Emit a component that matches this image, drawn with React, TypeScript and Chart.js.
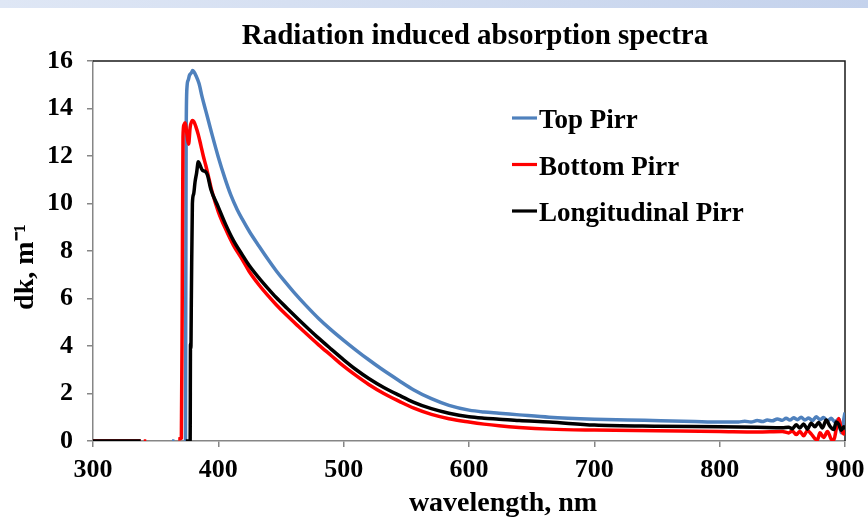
import { useEffect, useRef } from "react";
import { Chart, registerables } from "chart.js";

Chart.register(...registerables);

// Text
const chartTitle = "Radiation induced absorption spectra";
const xTitle = "wavelength, nm";
const yTitle = "dk, m⁻¹";
const seriesNames = ["Top Pirr", "Bottom Pirr", "Longitudinal Pirr"];
const seriesColors = ["#4F81BD", "#FF0000", "#000000"];

// Axis ranges
const xMin = 300;
const xMax = 900;
const xStep = 100;
const yMin = 0;
const yMax = 16;
const yStep = 2;

// Top Pirr: wavelength (nm) and dk (1/m); null breaks the trace
const topWl = [
  300, 338, 339, 363, 365, 366, 373.8, 374.3, 375, 376, 377, 378.5, 379.5, 380.5, 382, 384.6,
  387, 390, 392.5, 395, 400, 405, 410, 415, 419, 425, 432.5, 440, 446, 452, 460, 470, 480, 490,
  500, 510, 520, 530, 544, 556, 570, 584, 600, 612, 624, 640, 664, 700, 740, 780, 800, 815, 820,
  825, 830, 834, 838, 842, 846, 850, 853, 856, 859, 862, 865, 868, 871, 874, 877, 880, 883, 886,
  889, 892, 895, 897, 899, 900,
];
const topK = [
  0, 0, null, 0, 0, null, 0, 12.5, 14.9, 15.2, 15.4, 15.5, 15.6, 15.55, 15.4, 15.05,
  14.5, 13.9, 13.4, 12.9, 11.95, 11.1, 10.35, 9.75, 9.35, 8.8, 8.2, 7.62, 7.18, 6.78, 6.28, 5.7, 5.16, 4.68,
  4.24, 3.82, 3.42, 3.04, 2.55, 2.15, 1.78, 1.5, 1.3, 1.22, 1.17, 1.1, 1.0, 0.92, 0.87, 0.82, 0.8, 0.8, 0.83,
  0.8, 0.86, 0.82, 0.88, 0.85, 0.93, 0.87, 0.96, 0.88, 0.98, 0.9, 1.0, 0.88, 0.97, 0.86, 1.02, 0.9, 0.99, 0.84,
  0.96, 0.8, 0.93, 0.35, 0.9, 1.2,
];

// Bottom Pirr
const bottomWl = [
  300, 338, 339, 340.5, 342.5, 343, 368, 370.5, 371.2, 371.8, 372.5, 373.5, 374.5, 375.5, 376.3,
  377.5, 379.3, 380.5, 382, 384, 386, 388, 390, 392.5, 395, 400, 406, 412, 419, 424.5, 432.5, 440,
  446, 455, 464, 472, 480, 490, 500, 510, 520, 532, 544, 556, 570, 584, 600, 612, 624, 640, 664, 700,
  750, 800, 830, 850, 855, 858, 861, 864, 867, 870, 873, 876, 878, 880, 883, 886, 889, 891, 893, 895,
  897, 899, 900,
];
const bottomK = [
  0, 0, null, 0, 0, null, 0.08, 0.12, 6, 12.8, 13.3, 13.4, 13.1, 12.7, 12.5,
  13.2, 13.5, 13.45, 13.25, 12.9, 12.46, 12.0, 11.6, 11.05, 10.5, 9.65, 8.9, 8.25, 7.65, 7.15, 6.57, 6.1,
  5.75, 5.27, 4.82, 4.43, 4.05, 3.6, 3.15, 2.75, 2.38, 2.0, 1.68, 1.38, 1.12, 0.94, 0.8, 0.71, 0.64, 0.57, 0.5, 0.46,
  0.43, 0.4, 0.38, 0.4, 0.34, 0.42, 0.27, 0.4, 0.22, 0.44, 0.3, 0.1, 0.04, 0.35, 0.15, 0.4, 0.08, 0.02, 0.5, 0.95,
  0.5, 0.3, 0.45,
];

// Longitudinal Pirr
const longWl = [
  300, 338, 339, 374, 377.5, 377.8, 378.1, 378.5, 379.3, 380.3, 381.4, 382.7, 384, 385.5, 387.3,
  389.5, 391.3, 394, 400, 406, 412, 419, 424.5, 432.5, 440, 446, 455, 464, 472, 480, 490, 500, 510,
  520, 532, 544, 556, 570, 584, 600, 612, 624, 640, 664, 700, 750, 800, 830, 850, 855, 858, 861, 864,
  867, 870, 873, 876, 879, 882, 885, 888, 891, 893, 895, 897, 899, 900,
];
const longK = [
  0, 0, null, 0, 0, 4.1, 3.9, 6.1, 10.0, 10.4, 10.9, 11.3, 11.76, 11.6, 11.4,
  11.35, 11.2, 10.6, 9.85, 9.1, 8.45, 7.85, 7.4, 6.86, 6.4, 6.05, 5.58, 5.12, 4.72, 4.33, 3.87, 3.42, 3.0,
  2.63, 2.25, 1.93, 1.63, 1.36, 1.17, 1.02, 0.96, 0.92, 0.86, 0.8, 0.67, 0.62, 0.6, 0.58, 0.56, 0.58, 0.52, 0.68, 0.55,
  0.72, 0.5, 0.75, 0.6, 0.78, 0.55, 0.88, 0.62, 0.48, 0.8, 0.7, 0.45, 0.6, 0.5,
];

const serif = '"Liberation Serif", "Times New Roman", serif';

const toPoints = (wl: number[], k: (number | null)[]) => wl.map((x, i) => ({ x, y: k[i] }));

// Plot frame, titles and in-plot legend
const decorPlugin = {
  id: "decor",
  beforeDatasetsDraw(chart: any) {
    const { ctx, chartArea: a } = chart;
    ctx.save();
    ctx.strokeStyle = "#1a1a1a";
    ctx.lineWidth = 1.5;
    ctx.beginPath();
    ctx.moveTo(a.left, a.top);
    ctx.lineTo(a.right, a.top);
    ctx.lineTo(a.right, a.bottom);
    ctx.stroke();
    ctx.restore();
  },
  afterDraw(chart: any) {
    const { ctx, chartArea: a } = chart;
    ctx.save();
    ctx.fillStyle = "#000";
    ctx.font = `bold 29px ${serif}`;
    ctx.textAlign = "center";
    ctx.textBaseline = "alphabetic";
    ctx.fillText(chartTitle, (a.left + a.right) / 2 + 6, 44);

    ctx.font = `bold 28px ${serif}`;
    ctx.fillText(xTitle, (a.left + a.right) / 2 + 34, a.bottom + 70);

    // vertical axis title
    ctx.save();
    ctx.translate(26, (a.top + a.bottom) / 2 + 16);
    ctx.rotate(-Math.PI / 2);
    ctx.textBaseline = "middle";
    ctx.fillText(yTitle, 0, 0);
    ctx.restore();

    ctx.font = `bold 27px ${serif}`;
    ctx.textAlign = "left";
    ctx.textBaseline = "alphabetic";
    const lineX0 = a.left + 419;
    const lineX1 = a.left + 444;
    const rowY0 = a.top + 57;
    const rowGap = 46.5;
    chart.data.datasets.forEach((ds: any, i: number) => {
      const y = rowY0 + i * rowGap;
      ctx.strokeStyle = ds.borderColor;
      ctx.lineWidth = 3.2;
      ctx.beginPath();
      ctx.moveTo(lineX0, y);
      ctx.lineTo(lineX1, y);
      ctx.stroke();
      ctx.fillStyle = "#000";
      ctx.fillText(ds.label, lineX1 + 2, y + 10);
    });
    ctx.restore();
  },
};

export default function App() {
  const canvasRef = useRef<HTMLCanvasElement>(null);

  useEffect(() => {
    document.body.style.margin = "0";
    const canvas = canvasRef.current;
    if (!canvas) return;

    const series = [
      toPoints(topWl, topK),
      toPoints(bottomWl, bottomK),
      toPoints(longWl, longK),
    ];
    const drawOrder = [2, 1, 0];

    const tickFont = { family: serif, size: 26, weight: "bold" as const };

    const chart = new Chart(canvas, {
      type: "line",
      data: {
        datasets: series.map((data, i) => ({
          label: seriesNames[i],
          data,
          borderColor: seriesColors[i],
          backgroundColor: seriesColors[i],
          borderWidth: 3.5,
          pointRadius: 0,
          cubicInterpolationMode: "monotone" as const,
          spanGaps: false,
          borderJoinStyle: "round" as const,
          order: drawOrder[i],
        })),
      },
      options: {
        responsive: false,
        animation: false,
        events: [],
        layout: { padding: { left: 0, right: 23, top: 61, bottom: 0 } },
        plugins: {
          legend: { display: false },
          title: { display: false },
          tooltip: { enabled: false },
        },
        scales: {
          x: {
            type: "linear",
            min: xMin,
            max: xMax,
            ticks: {
              stepSize: xStep,
              color: "#000",
              font: tickFont,
              padding: 8,
              maxRotation: 0,
              autoSkip: false,
            },
            grid: {
              drawOnChartArea: false,
              drawTicks: true,
              tickLength: 6,
              color: "#868686",
              lineWidth: 1.5,
            },
            border: { color: "#868686", width: 1.5 },
            title: { display: false },
            afterFit(scale: any) {
              scale.height = 82;
              scale.paddingLeft = 0;
              scale.paddingRight = 0;
            },
          },
          y: {
            type: "linear",
            min: yMin,
            max: yMax,
            ticks: {
              stepSize: yStep,
              color: "#000",
              font: tickFont,
              padding: 14,
            },
            grid: {
              drawOnChartArea: false,
              drawTicks: true,
              tickLength: 6,
              color: "#868686",
              lineWidth: 1.5,
            },
            border: { color: "#868686", width: 1.5 },
            title: { display: false },
            afterFit(scale: any) {
              scale.width = 93;
              scale.paddingTop = 0;
              scale.paddingBottom = 0;
            },
          },
        },
      },
      plugins: [decorPlugin],
    });

    return () => chart.destroy();
  }, []);

  return (
    <div style={{ position: "relative", width: 868, height: 523, background: "#fff", overflow: "hidden" }}>
      <div
        style={{
          position: "absolute",
          left: 0,
          top: 0,
          width: 868,
          height: 8,
          background: "linear-gradient(to right, #dfe7f5, #c4d2ec)",
        }}
      />
      <canvas ref={canvasRef} width={868} height={523} style={{ position: "absolute", left: 0, top: 0 }} />
    </div>
  );
}
